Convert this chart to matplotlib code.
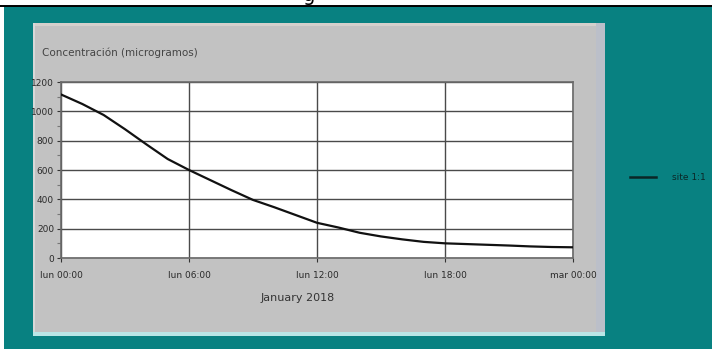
import matplotlib
matplotlib.use("Agg")
import matplotlib.pyplot as plt
from matplotlib.patches import Rectangle
from matplotlib.lines import Line2D

# Hourly concentration readings, Monday 00:00 through Tuesday 00:00
hours = list(range(25))
concentration = [1115, 1050, 975, 878, 775, 675, 600, 531, 462, 396, 346, 293,
                 240, 208, 172, 147, 127, 110, 100, 95, 90, 85, 79, 75, 73]

tick_hours = [0, 6, 12, 18, 24]
tick_labels = ["lun 00:00", "lun 06:00", "lun 12:00", "lun 18:00", "mar 00:00"]
y_ticks = [0, 200, 400, 600, 800, 1000, 1200]
y_minor = [100, 300, 500, 700, 900, 1100]
series_name = "site 1:1"
title_text = "Concentración (microgramos)"
x_title = "January 2018"

W, H = 712, 349
fig = plt.figure(figsize=(W / 100, H / 100), dpi=100)
fig.patch.set_facecolor("white")


def px_rect(x0, y0, x1, y1, color, z=0):
    """Rectangle given in pixel coordinates (origin top-left)."""
    fig.add_artist(Rectangle((x0 / W, 1 - y1 / H), (x1 - x0) / W, (y1 - y0) / H,
                             transform=fig.transFigure, facecolor=color,
                             edgecolor="none", zorder=z))


def px_line(x0, y0, x1, y1, color, lw, z=1):
    fig.add_artist(Line2D([x0 / W, x1 / W], [1 - y0 / H, 1 - y1 / H],
                          transform=fig.transFigure, color=color, lw=lw, zorder=z))


# window background
px_rect(4, 6, W, H, "#088181", z=0)
px_line(0, 5.5, W, 5.5, "black", 1.4, z=2)
fig.text(309 / W, 1 - 1 / H, "g", fontsize=14, ha="center", va="baseline",
         color="black", zorder=3)

# grey chart panel with bevelled edges
px_rect(33, 23, 605, 336, "#C2C2C2", z=1)
px_rect(33, 23, 605, 26, "#D4D0CC", z=1.1)
px_rect(596, 23, 605, 336, "#BBBFC9", z=1.1)
px_rect(33, 332, 605, 336, "#B9E6E6", z=1.2)
px_rect(33, 23, 35, 336, "#D8D8D8", z=1.1)

# plot area
ax = fig.add_axes([61 / W, 1 - 258 / H, 512 / W, 176 / H], zorder=5)
ax.set_facecolor("white")
ax.plot(hours, concentration, color="#111111", lw=1.6, zorder=4)

ax.set_xlim(0, 24)
ax.set_ylim(0, 1200)
ax.set_xticks(tick_hours)
ax.set_xticklabels(tick_labels)
ax.set_yticks(y_ticks)
ax.set_yticks(y_minor, minor=True)

ax.grid(True, which="major", color="#4a4a4a", lw=1.0, zorder=1)
for sp in ax.spines.values():
    sp.set_color("#6a6a6a")
    sp.set_linewidth(1.2)

ax.tick_params(axis="both", which="major", labelsize=6.5, colors="#333333",
               length=3, width=0.8, pad=6)
ax.tick_params(axis="y", which="major", pad=2)
ax.tick_params(axis="y", which="minor", length=3, width=0.8, colors="#777777")
for lbl in ax.get_xticklabels() + ax.get_yticklabels():
    lbl.set_color("#2a2a2a")

fig.text(42 / W, 1 - 53 / H, title_text, fontsize=7.5, color="#444444",
         ha="left", va="center", zorder=6)
fig.text(298 / W, 1 - 298 / H, x_title, fontsize=8, color="#333333",
         ha="center", va="center", zorder=6)

# legend entry on the teal background
px_line(630, 177, 656, 177, "#0b2626", 1.8, z=6)
fig.text(672 / W, 1 - 177 / H, series_name, fontsize=6.5, color="#0b2626",
         ha="left", va="center", zorder=6)

fig.savefig("out.png", dpi=100, facecolor=fig.get_facecolor())
